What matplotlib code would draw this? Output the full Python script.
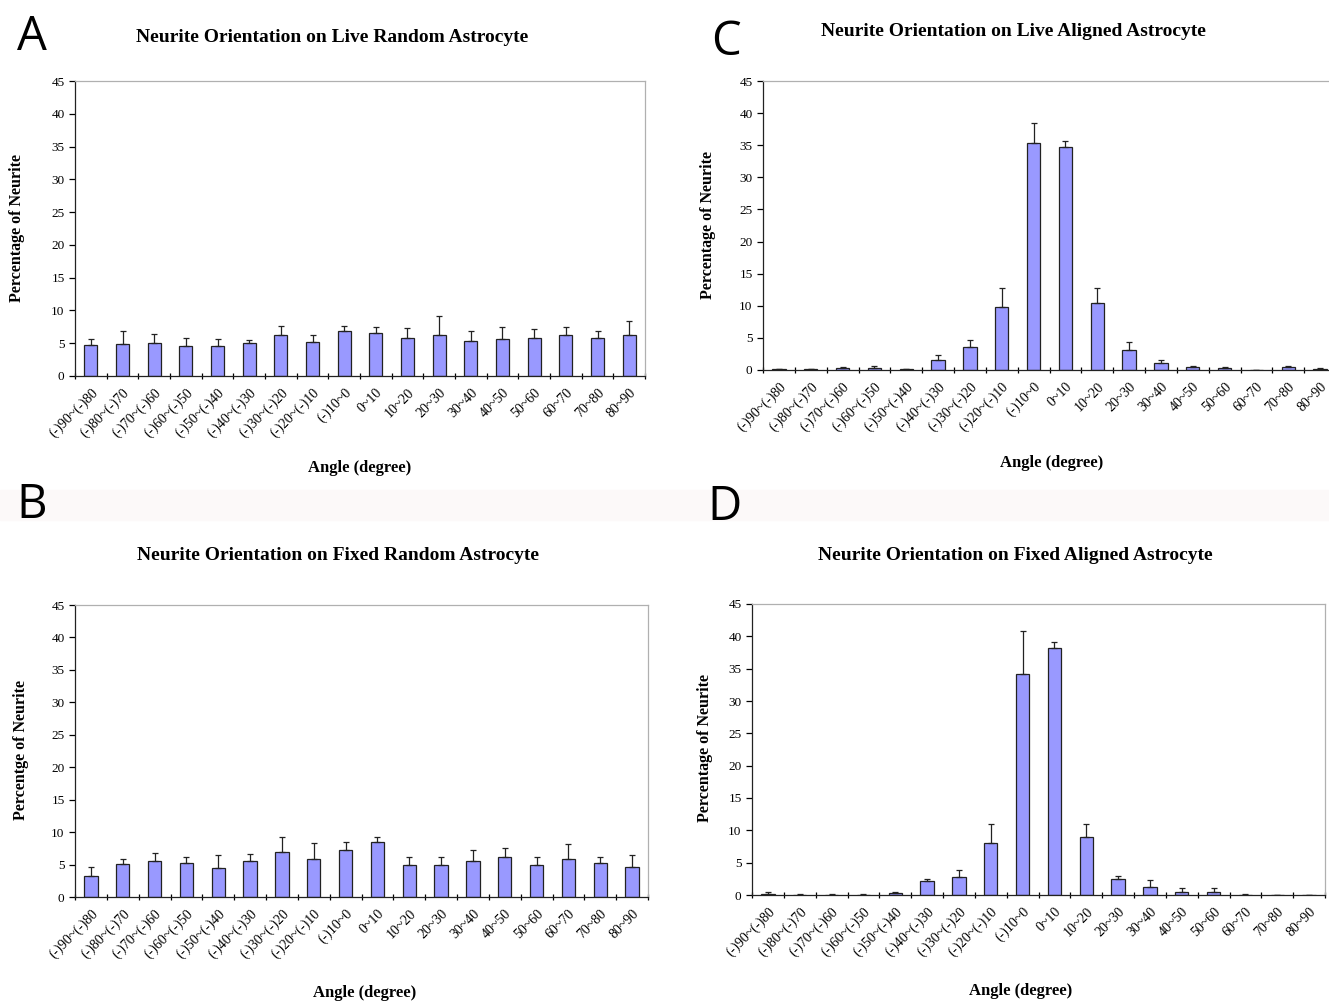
import numpy as np
import matplotlib
matplotlib.use("Agg")
import matplotlib.pyplot as plt
from matplotlib.patches import Rectangle

# category labels (same for all four panels)
angles = ["(-)90~(-)80", "(-)80~(-)70", "(-)70~(-)60", "(-)60~(-)50", "(-)50~(-)40",
          "(-)40~(-)30", "(-)30~(-)20", "(-)20~(-)10", "(-)10~0", "0~10", "10~20",
          "20~30", "30~40", "40~50", "50~60", "60~70", "70~80", "80~90"]

# A: live random astrocyte
live_random = [4.8, 4.9, 5.1, 4.5, 4.5, 5.1, 6.2, 5.2, 6.8, 6.6, 5.8, 6.2, 5.4, 5.6, 5.8, 6.2, 5.8, 6.3]
live_random_err = [0.9, 2.0, 1.3, 1.3, 1.2, 0.4, 1.4, 1.1, 0.9, 0.9, 1.5, 3.0, 1.5, 1.8, 1.3, 1.3, 1.1, 2.1]

# B: fixed random astrocyte
fixed_random = [3.2, 5.1, 5.6, 5.3, 4.5, 5.6, 7.0, 5.9, 7.3, 8.4, 4.9, 5.0, 5.6, 6.2, 5.0, 5.9, 5.3, 4.7]
fixed_random_err = [1.5, 0.7, 1.2, 0.9, 1.9, 1.0, 2.2, 2.4, 1.1, 0.9, 1.3, 1.2, 1.6, 1.3, 1.2, 2.2, 0.9, 1.8]

# C: live aligned astrocyte
live_aligned = [0.1, 0.1, 0.3, 0.3, 0.1, 1.5, 3.6, 9.8, 35.4, 34.7, 10.4, 3.1, 1.1, 0.5, 0.3, 0.0, 0.5, 0.2]
live_aligned_err = [0.1, 0.1, 0.1, 0.4, 0.1, 0.8, 1.0, 3.0, 3.0, 0.9, 2.3, 1.2, 0.5, 0.2, 0.1, 0.0, 0.2, 0.1]

# D: fixed aligned astrocyte
fixed_aligned = [0.1, 0.05, 0.05, 0.05, 0.3, 2.2, 2.8, 8.0, 34.2, 38.2, 9.0, 2.4, 1.2, 0.5, 0.5, 0.05, 0.0, 0.0]
fixed_aligned_err = [0.4, 0.05, 0.05, 0.1, 0.1, 0.3, 1.0, 3.0, 6.6, 1.0, 2.0, 0.6, 1.1, 0.6, 0.6, 0.05, 0.0, 0.0]

W, H = 1329, 1002
SERIF = "Liberation Serif"
BAR_COLOR = "#9999ff"


def fx(px):
    return px / W


def fy(py):
    return 1 - py / H


def draw_panel(fig, box, vals, errs, title, ylabel, title_xy, ylab_xy, xlab_xy, letter, letter_xy):
    left, top, right, bottom = box
    ax = fig.add_axes([fx(left), fy(bottom), fx(right) - fx(left), fy(top) - fy(bottom)])
    x = np.arange(len(angles))
    ax.bar(x, vals, width=0.42, color=BAR_COLOR, edgecolor="#222222", linewidth=0.9, zorder=2)
    ax.errorbar(x, vals, yerr=[np.zeros(len(errs)), errs], fmt="none", ecolor="#222222",
                elinewidth=0.9, capsize=2.5, capthick=0.9, zorder=3)
    ax.set_xlim(-0.5, len(angles) - 0.5)
    ax.set_ylim(0, 45)
    ax.set_yticks(np.arange(0, 46, 5))
    ax.set_xticks(x)
    ax.set_xticklabels(angles, rotation=45, ha="right", rotation_mode="anchor",
                       fontsize=10, family=SERIF)
    ax.set_xticks(np.arange(-0.5, len(angles), 1), minor=True)
    ax.tick_params(axis="x", which="major", length=0, pad=7)
    ax.tick_params(axis="x", which="minor", length=4, direction="inout", width=0.9)
    ax.tick_params(axis="y", length=4, direction="out", width=0.9, labelsize=9.5)
    for lab in ax.get_yticklabels():
        lab.set_family(SERIF)
    ax.spines["left"].set_color("#222222")
    ax.spines["bottom"].set_color("#222222")
    ax.spines["top"].set_color("#b0b0b0")
    ax.spines["right"].set_color("#b0b0b0")
    for s in ax.spines.values():
        s.set_linewidth(0.9)

    fig.text(fx(title_xy[0]), fy(title_xy[1]), title, ha="center", va="center",
             fontsize=14, fontweight="bold", family=SERIF)
    fig.text(fx(ylab_xy[0]), fy(ylab_xy[1]), ylabel, ha="center", va="center", rotation=90,
             fontsize=11.5, fontweight="bold", family=SERIF)
    fig.text(fx(xlab_xy[0]), fy(xlab_xy[1]), "Angle (degree)", ha="center", va="center",
             fontsize=12, fontweight="bold", family=SERIF)
    fig.text(fx(letter_xy[0]), fy(letter_xy[1]), letter, ha="center", va="center",
             fontsize=34, family="Open Sans")
    return ax


fig = plt.figure(figsize=(W / 100, H / 100), dpi=100)

# very faint band behind the B and D headers
fig.patches.append(Rectangle((0, fy(520)), 1, fy(490) - fy(520), transform=fig.transFigure,
                             color="#fcf9f9", zorder=0))

draw_panel(fig, (75, 81, 645, 376), live_random, live_random_err,
           "Neurite Orientation on Live Random Astrocyte", "Percentage of Neurite",
           (332, 37), (17, 228), (360, 468), "A", (32, 37))
draw_panel(fig, (763, 81, 1336, 370), live_aligned, live_aligned_err,
           "Neurite Orientation on Live Aligned Astrocyte", "Percentage of Neurite",
           (1013, 32), (708, 225), (1052, 463), "C", (726, 42))
draw_panel(fig, (75, 605, 648, 897), fixed_random, fixed_random_err,
           "Neurite Orientation on Fixed Random Astrocyte", "Percentge of Neurite",
           (338, 555), (21, 750), (365, 993), "B", (32, 505))
draw_panel(fig, (752, 604, 1325, 895), fixed_aligned, fixed_aligned_err,
           "Neurite Orientation on Fixed Aligned Astrocyte", "Percentage of Neurite",
           (1015, 555), (705, 748), (1021, 991), "D", (724, 507))

fig.savefig("out.png", dpi=100)
